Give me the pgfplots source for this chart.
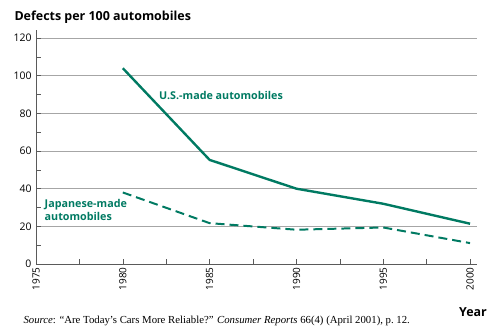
\documentclass[border=0pt]{standalone}
\usepackage{pgfplots}
\pgfplotsset{compat=1.18}
\usepackage{fontspec}
\setmainfont{Open Sans}
\newfontfamily\serif{Liberation Serif}
\definecolor{teal}{RGB}{0,122,98}
\definecolor{axgray}{RGB}{90,90,90}
\begin{document}
\begin{tikzpicture}
\path[use as bounding box] (-36bp,-63bp) rectangle (452bp,264bp);
\begin{axis}[
  scale only axis,
  width=441bp, height=234bp,
  xmin=1975, xmax=2000.4,
  ymin=0, ymax=124.3,
  axis lines*=left,
  axis line style={axgray, line width=0.8pt, -},
  xtick={1975,1980,...,2000},
  minor xtick={1977.5,1982.5,...,1997.5},
  ytick={0,20,...,120},
  minor ytick={10,30,...,110},
  ymajorgrids,
  grid style={gray!70, line width=0.6pt},
  tick style={axgray, line width=0.6pt},
  major tick length=5bp, minor tick length=5bp,
  xtick align=inside, ytick align=inside,
  xticklabel style={rotate=90, anchor=east, font=\fontsize{10}{11}\selectfont},
  yticklabel style={font=\fontsize{10.5}{11}\selectfont, xshift=-1bp},
  x tick label style={/pgf/number format/1000 sep={}},
  /pgf/number format/assume math mode=true,
  clip=false,
]
\addplot[teal, line width=2.4pt, line join=round] coordinates {
(1980,104) (1985,55.3) (1990,40) (1995,32) (2000,21.4)};
\addplot[teal, line width=2pt, dash pattern=on 9bp off 5bp] coordinates {
(1980,38) (1985,21.7) (1990,18.2) (1995,19.4) (2000,11.1)};
\node[teal, font=\fontsize{10.8}{12}\selectfont\bfseries] at (axis cs:1985.66,89.7) {U.S.-made automobiles};
\node[teal, font=\fontsize{10.8}{13}\selectfont\bfseries, align=left, anchor=west] at (axis cs:1975.3,28.7) {Japanese-made\\automobiles};
\end{axis}
\node[anchor=west, font=\fontsize{12.5}{14}\selectfont\bfseries] at (-25bp,247bp) {Defects per 100 automobiles};
\node[anchor=east, inner sep=0.5bp, font=\fontsize{12.5}{14}\selectfont\bfseries] at (451.5bp,-48bp) {Year};
\node[anchor=west, font=\serif\fontsize{10.8}{12}\selectfont] at (-16bp,-56.5bp) {\textit{Source}: “Are Today’s Cars More Reliable?” \textit{Consumer Reports} 66(4) (April 2001), p.~12.};
\end{tikzpicture}
\end{document}
